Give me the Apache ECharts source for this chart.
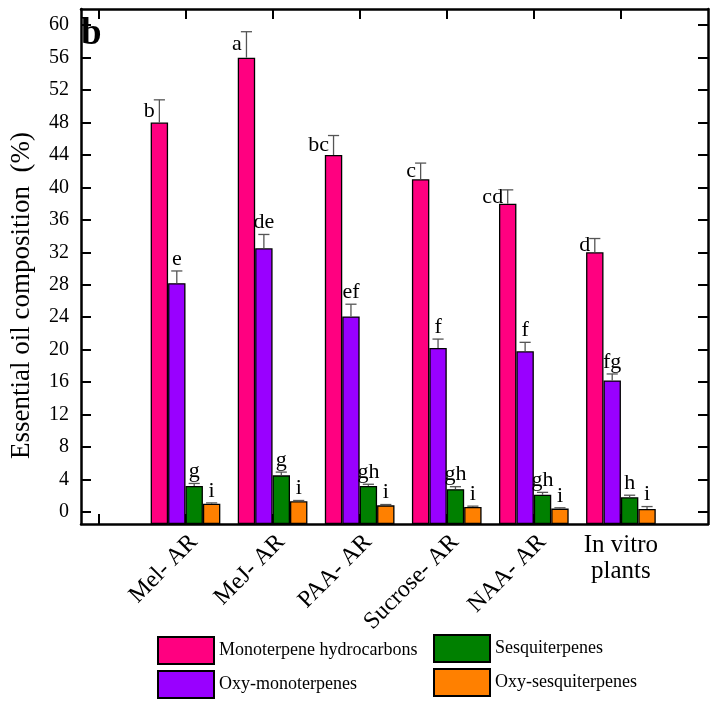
<!DOCTYPE html>
<html>
<head>
<meta charset="utf-8">
<script src="https://cdn.jsdelivr.net/npm/echarts@6/dist/echarts.min.js"></script>
<style>html,body{margin:0;padding:0;background:#fff;}#c{width:717px;height:703px;}</style>
</head>
<body>
<div id="c"></div>
<script>
const categories = ['Mel- AR', 'MeJ- AR', 'PAA- AR', 'Sucrose- AR', 'NAA- AR', 'In vitro\nplants'];
const seriesNames = ['Monoterpene hydrocarbons', 'Oxy-monoterpenes', 'Sesquiterpenes', 'Oxy-sesquiterpenes'];
const monoterpene = [48, 56, 44, 41, 38, 32];
const oxyMonoterpene = [28.2, 32.5, 24.1, 20.2, 19.8, 16.2];
const sesquiterpene = [3.2, 4.5, 3.2, 2.8, 2.1, 1.8];
const oxySesquiterpene = [1.0, 1.3, 0.8, 0.6, 0.4, 0.35];
const monoterpeneErr = [2.8, 3.2, 2.4, 2.0, 1.7, 1.7];
const oxyMonoterpeneErr = [1.5, 1.7, 1.5, 1.1, 1.1, 0.8];
const sesquiterpeneErr = [0.3, 0.4, 0.2, 0.3, 0.3, 0.25];
const oxySesquiterpeneErr = [0.1, 0.1, 0.1, 0.1, 0.1, 0.3];
const monoterpeneLetters = ['b', 'a', 'bc', 'c', 'cd', 'd'];
const oxyMonoterpeneLetters = ['e', 'de', 'ef', 'f', 'f', 'fg'];
const sesquiterpeneLetters = ['g', 'g', 'gh', 'gh', 'gh', 'h'];
const oxySesquiterpeneLetters = ['i', 'i', 'i', 'i', 'i', 'i'];
const yTicks = [0, 4, 8, 12, 16, 20, 24, 28, 32, 36, 40, 44, 48, 52, 56, 60];

const colors = ['#ff0080', '#9900ff', '#008000', '#ff8000'];
const values = [monoterpene, oxyMonoterpene, sesquiterpene, oxySesquiterpene];
const errs = [monoterpeneErr, oxyMonoterpeneErr, sesquiterpeneErr, oxySesquiterpeneErr];
const letters = [monoterpeneLetters, oxyMonoterpeneLetters, sesquiterpeneLetters, oxySesquiterpeneLetters];
const catPos = categories.map((c, i) => i + 1);
const FONT = 'Liberation Serif';

const series = [];
values.forEach((vals, k) => {
  series.push({
    name: seriesNames[k], type: 'bar', xAxisIndex: 0, yAxisIndex: 0,
    barWidth: '20%', barGap: '0%',
    itemStyle: { color: colors[k], borderColor: '#000', borderWidth: 1.3 },
    data: vals.map((v, i) => [catPos[i], v]),
    z: 2
  });
});
values.forEach((vals, k) => {
  series.push({
    type: 'custom', xAxisIndex: 0, yAxisIndex: 0, z: 3, silent: true,
    data: vals.map((v, i) => [catPos[i], v, errs[k][i]]),
    renderItem: function (params, api) {
      const x = api.value(0), v = api.value(1), e = api.value(2);
      const band = api.size([1, 0])[0];
      const bw = band * 0.2;
      const cx = api.coord([x, 0])[0] + (k - 1.5) * bw;
      const yTop = api.coord([x, v])[1];
      const yErr = api.coord([x, v + e])[1];
      const cap = bw * 0.32;
      const txt = letters[k][params.dataIndex];
      const children = [
        { type: 'line', shape: { x1: cx, y1: yTop, x2: cx, y2: yErr }, style: { stroke: '#555', lineWidth: 1.3 } },
        { type: 'line', shape: { x1: cx - cap, y1: yErr, x2: cx + cap, y2: yErr }, style: { stroke: '#555', lineWidth: 1.3 } }
      ];
      if (k === 0) {
        children.push({ type: 'text', x: cx - cap + 1, y: (yTop + yErr) / 2,
          style: { text: txt, font: '22px "' + FONT + '"', fill: '#000', align: 'right', verticalAlign: 'middle' } });
      } else {
        children.push({ type: 'text', x: cx, y: yErr - 1,
          style: { text: txt, font: '22px "' + FONT + '"', fill: '#000', align: 'center', verticalAlign: 'bottom' } });
      }
      return { type: 'group', children: children };
    }
  });
});

const axisLineStyle = { color: '#000', width: 2.5 };
const legendText = { fontFamily: FONT, fontSize: 18, color: '#000' };
const option = {
  animation: false,
  backgroundColor: '#fff',
  title: { text: 'b', left: 81, top: 16, padding: 0, textStyle: { fontFamily: FONT, fontSize: 37, fontWeight: 'bold', color: '#000' } },
  grid: { left: 80, right: 9, top: 9, bottom: 179, containLabel: false },
  legend: [
    { orient: 'vertical', left: 157, top: 636, padding: 0, itemWidth: 56, itemHeight: 27, itemGap: 5, icon: 'rect',
      data: [seriesNames[0], seriesNames[1]], textStyle: legendText },
    { orient: 'vertical', left: 433, top: 634, padding: 0, itemWidth: 56, itemHeight: 27, itemGap: 5, icon: 'rect',
      data: [seriesNames[2], seriesNames[3]], textStyle: legendText }
  ],
  xAxis: [
    { type: 'value', position: 'bottom', min: -0.2, max: 7, splitLine: { show: false },
      axisLine: { show: true, onZero: false, lineStyle: axisLineStyle },
      axisTick: { show: true, inside: true, length: 10, lineStyle: { color: '#000', width: 2 }, customValues: [0].concat(catPos) },
      axisLabel: { show: true, rotate: 45, margin: 6, verticalAlign: 'top', align: 'right', fontFamily: FONT, fontSize: 24, color: '#000',
        customValues: catPos.slice(0, 5), formatter: v => categories[Math.round(v) - 1] } },
    { type: 'value', position: 'bottom', min: -0.2, max: 7, splitLine: { show: false },
      axisLine: { show: false, onZero: false }, axisTick: { show: false },
      axisLabel: { show: true, margin: 8, fontFamily: FONT, fontSize: 25, lineHeight: 26, color: '#000',
        customValues: [catPos[5]], formatter: v => categories[Math.round(v) - 1] } },
    { type: 'value', position: 'top', min: -0.2, max: 7, splitLine: { show: false },
      axisLine: { show: true, onZero: false, lineStyle: axisLineStyle },
      axisTick: { show: true, inside: true, length: 10, lineStyle: { color: '#000', width: 2 }, customValues: [0].concat(catPos) },
      axisLabel: { show: false } }
  ],
  yAxis: [
    { type: 'value', position: 'left', min: -1.5, max: 62, startValue: -1.5, splitLine: { show: false },
      name: 'Essential oil composition  (%)', nameLocation: 'middle', nameGap: 46,
      nameTextStyle: { fontFamily: FONT, fontSize: 27, color: '#000', padding: [0, 58, 0, 0] },
      axisLine: { show: true, onZero: false, lineStyle: axisLineStyle },
      axisTick: { show: true, inside: true, length: 10, lineStyle: { color: '#000', width: 2 }, customValues: yTicks },
      axisLabel: { show: true, margin: 12, fontFamily: FONT, fontSize: 20, color: '#000', customValues: yTicks } },
    { type: 'value', position: 'right', min: -1.5, max: 62, splitLine: { show: false },
      axisLine: { show: true, onZero: false, lineStyle: axisLineStyle },
      axisTick: { show: true, inside: true, length: 10, lineStyle: { color: '#000', width: 2 }, customValues: yTicks },
      axisLabel: { show: false } }
  ],
  series: series
};
const chart = echarts.init(document.getElementById('c'), null, { renderer: 'canvas' });
chart.setOption(option);
</script>
</body>
</html>
